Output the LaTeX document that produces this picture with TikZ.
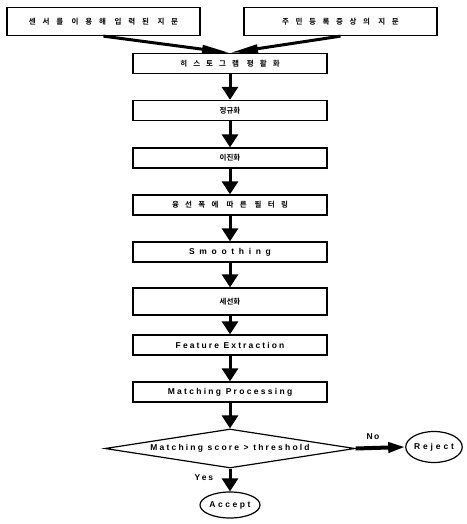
\documentclass[tikz,border=0pt]{standalone}
\usepackage{fontspec}
\setmainfont{Liberation Sans}
\newfontfamily\kofont{Noto Sans CJK KR}[BoldFont={Noto Sans CJK KR Bold}]
\usetikzlibrary{positioning, shapes.geometric, arrows.meta}

\newcommand{\trk}[1]{\addfontfeature{LetterSpace=#1}}

\begin{document}
\begin{tikzpicture}[
    x=1pt, y=-1pt,
    font=\bfseries\fontsize{8.5}{10}\selectfont,
    step_box/.style={rectangle, draw=black, line width=1.3pt, minimum width=194pt, minimum height=20pt, inner sep=0pt, align=center},
    input_box/.style={step_box, minimum width=193pt, minimum height=28pt},
    ko_text/.style={font=\kofont\bfseries\fontsize{7.5}{9}\selectfont},
    end_oval/.style={ellipse, draw=black, line width=1.2pt, inner sep=0pt},
    flow_arrow/.style={-{Triangle[length=13pt,width=16pt]}, line width=3pt},
    merge_arrow/.style={-{Triangle[length=28pt,width=8pt]}, line width=3pt},
    label_text/.style={font=\bfseries\fontsize{8.5}{10}\selectfont}
]
\useasboundingbox (0,0) rectangle (466,524);

% Top: the two input fingerprints
\node[input_box, ko_text] (sensor) at (103.5, 21.5) {\trk{91}센서를 이용해 입력된 지문};
\node[input_box, ko_text] (idcard) at (340.5, 21.5) {\trk{88}주민등록증상의 지문};

% Middle: processing steps
\node[step_box, ko_text] (hist) at (230, 63.5) {\trk{81}히스토그램 평활화};
\node[step_box, ko_text] (norm) at (230, 110.5) {정규화};
\node[step_box, ko_text] (binar) at (230, 158) {이진화};
\node[step_box, ko_text] (filt) at (230, 205) {\trk{84}융선폭에 따른 필터링};
\node[step_box] (smooth) at (230, 252) {\trk{55}Smoothing};
\node[step_box, ko_text, minimum height=27pt] (thin) at (230, 301.5) {세선화};
\node[step_box] (feat) at (230, 345) {\trk{25}Feature Extraction};
\node[step_box] (match) at (230, 392) {\trk{27}Matching Processing};

% Bottom: decision
\node[diamond, draw=black, line width=1.2pt, aspect=6.4, minimum width=250pt, minimum height=39pt, inner sep=0pt] (decide) at (230, 448.5) {\trk{26}Matching score > threshold};
\node[end_oval, minimum width=56pt, minimum height=31pt] (reject) at (434, 447) {\trk{34}Reject};
\node[end_oval, minimum width=60pt, minimum height=26pt] (accept) at (230, 505) {\trk{30}Accept};

% Arrows
\draw[merge_arrow] (sensor.south) -- (hist.north);
\draw[merge_arrow] (idcard.south) -- (hist.north);
\draw[flow_arrow] (hist) -- (norm);
\draw[flow_arrow] (norm) -- (binar);
\draw[flow_arrow] (binar) -- (filt);
\draw[flow_arrow] (filt) -- (smooth);
\draw[flow_arrow] (smooth) -- (thin);
\draw[flow_arrow] (thin) -- (feat);
\draw[flow_arrow] (feat) -- (match);
\draw[flow_arrow] (match) -- (decide);
\draw[-{Triangle[length=17pt,width=10pt]}, line width=4pt] (decide.east) -- node[label_text, above=3pt, pos=0.35] {\trk{16}No} (reject.west);
\draw[flow_arrow] (decide.south) -- node[label_text, left=12pt, pos=0.4] {\trk{23}Yes} (accept.north);

\end{tikzpicture}
\end{document}
